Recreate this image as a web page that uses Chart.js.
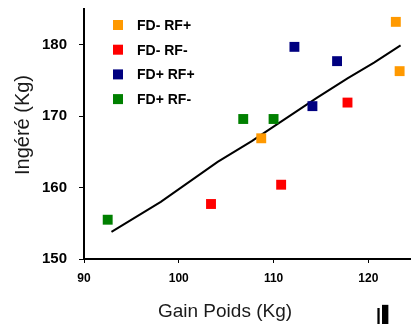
<!DOCTYPE html>
<html>
<head>
<meta charset="utf-8">
<script src="https://cdn.jsdelivr.net/npm/chart.js@4.4.1/dist/chart.umd.min.js"></script>
<style>
  html, body { margin: 0; padding: 0; background: #fff; }
  #wrap { position: relative; width: 411px; height: 324px; }
  #mark { position: absolute; left: 376px; top: 305px; font: bold 18px "Liberation Sans", Arial, sans-serif; color: #000; letter-spacing: 1px; }
</style>
</head>
<body>
<div id="wrap">
  <canvas id="c" width="411" height="324"></canvas>
  <div id="mark">|▌</div>
</div>
<script>
// ---- data ----
const seriesNames = ["FD- RF+", "FD- RF-", "FD+ RF+", "FD+ RF-"];
const seriesColors = ["#FF9900", "#FF0000", "#000080", "#008000"];
const fdMinusRfPlus_x = [122.9, 123.3, 108.7];
const fdMinusRfPlus_y = [183.2, 176.3, 166.9];
const fdMinusRfMinus_x = [117.8, 103.4, 110.8];
const fdMinusRfMinus_y = [171.9, 157.7, 160.4];
const fdPlusRfPlus_x = [112.2, 116.7, 114.1];
const fdPlusRfPlus_y = [179.7, 177.7, 171.4];
const fdPlusRfMinus_x = [106.8, 110.0, 92.5];
const fdPlusRfMinus_y = [169.6, 169.6, 155.5];
const trend_x = [92.9, 98.1, 104.1, 107.7, 114.6, 117.8, 120.6, 123.4];
const trend_y = [153.8, 158.0, 163.6, 166.5, 172.6, 175.3, 177.5, 179.9];
const xTicks = [90, 100, 110, 120];
const yTicks = [150, 160, 170, 180];
const xTitle = "Gain Poids (Kg)";
const yTitle = "Ingéré (Kg)";

const toPts = (xs, ys) => xs.map((x, i) => ({x: x, y: ys[i]}));
const seriesX = [fdMinusRfPlus_x, fdMinusRfMinus_x, fdPlusRfPlus_x, fdPlusRfMinus_x];
const seriesY = [fdMinusRfPlus_y, fdMinusRfMinus_y, fdPlusRfPlus_y, fdPlusRfMinus_y];

const FONT = '"Liberation Sans", Arial, sans-serif';

const datasets = seriesNames.map((n, i) => ({
  type: 'scatter',
  label: n,
  data: toPts(seriesX[i], seriesY[i]),
  backgroundColor: seriesColors[i],
  borderColor: seriesColors[i],
  borderWidth: 0,
  pointStyle: 'rect',
  pointRadius: 7,
  pointHoverRadius: 7,
  clip: false,
  order: 1
}));
datasets.push({
  type: 'line',
  label: 'trend',
  data: toPts(trend_x, trend_y),
  borderColor: '#000',
  borderWidth: 2,
  pointRadius: 0,
  fill: false,
  tension: 0,
  clip: false,
  order: 2
});

const insideLegend = {
  id: 'insideLegend',
  afterDatasetsDraw(chart) {
    const ctx = chart.ctx, a = chart.chartArea;
    ctx.save();
    ctx.font = 'bold 14px ' + FONT;
    ctx.textBaseline = 'middle';
    seriesNames.forEach((n, i) => {
      const cy = a.top + 16 + i * 24.7;
      const cx = a.left + 34;
      ctx.fillStyle = seriesColors[i];
      ctx.fillRect(cx - 5, cy - 5, 10, 10);
      ctx.fillStyle = '#000';
      ctx.fillText(n, a.left + 53, cy + 1);
    });
    ctx.restore();
  }
};

const axisTitles = {
  id: 'axisTitles',
  afterDraw(chart) {
    const ctx = chart.ctx;
    ctx.save();
    ctx.fillStyle = '#1a1a1a';
    ctx.textAlign = 'center';
    ctx.textBaseline = 'middle';
    ctx.font = '19px ' + FONT;
    ctx.fillText(xTitle, 225, 312);
    ctx.translate(23, 125);
    ctx.rotate(-Math.PI / 2);
    ctx.font = '20px ' + FONT;
    ctx.fillText(yTitle, 0, 0);
    ctx.restore();
  }
};

new Chart(document.getElementById('c'), {
  data: { datasets },
  options: {
    responsive: false,
    animation: false,
    events: [],
    layout: { autoPadding: false, padding: { top: 9, right: 0, left: 0, bottom: 0 } },
    plugins: { legend: { display: false }, tooltip: { enabled: false } },
    scales: {
      x: {
        type: 'linear',
        min: 90, max: 124.5,
        afterBuildTicks: s => { s.ticks = xTicks.map(v => ({value: v})); },
        afterFit: s => { s.height = 65; s.paddingRight = 0; s.paddingLeft = 0; },
        grid: { display: true, drawOnChartArea: false, drawTicks: true, tickLength: 4, color: '#000', lineWidth: 1 },
        border: { display: true, color: '#000', width: 2 },
        ticks: { color: '#000', font: { family: FONT, size: 12, weight: 'bold' }, padding: 8, maxRotation: 0 },
        title: { display: false }
      },
      y: {
        type: 'linear',
        min: 150, max: 185,
        afterBuildTicks: s => { s.ticks = yTicks.map(v => ({value: v})); },
        afterFit: s => { s.width = 84; s.paddingTop = 0; s.paddingBottom = 0; },
        grid: { display: true, drawOnChartArea: false, drawTicks: true, tickLength: 5, color: '#000', lineWidth: 1 },
        border: { display: true, color: '#000', width: 2 },
        ticks: { color: '#000', font: { family: FONT, size: 15, weight: 'bold' }, padding: 12 },
        title: { display: false }
      }
    }
  },
  plugins: [insideLegend, axisTitles]
});
</script>
</body>
</html>
